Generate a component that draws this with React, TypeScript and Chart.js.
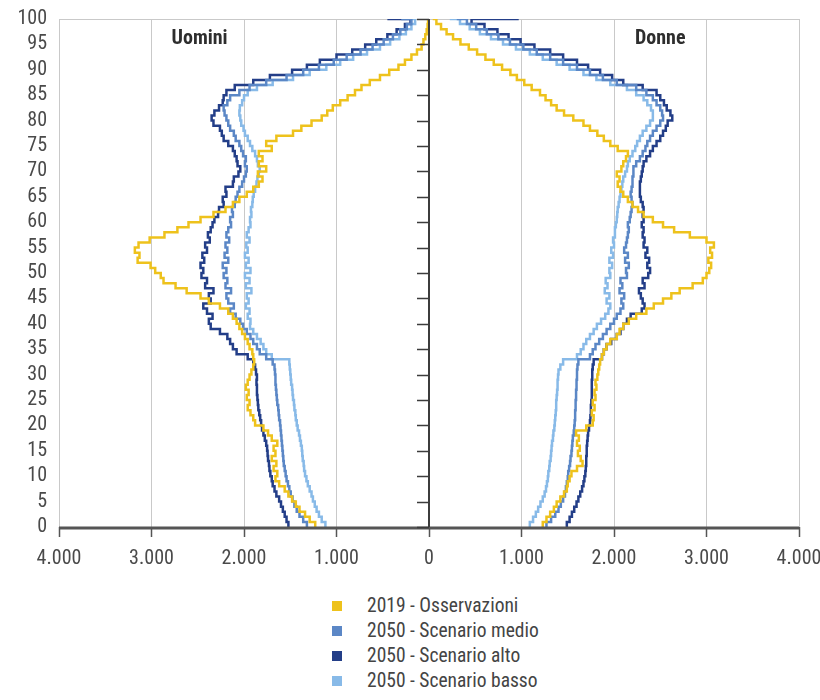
import { useEffect, useRef } from "react";
import { Chart, registerables } from "chart.js";

Chart.register(...registerables);

const AGES = Array.from({ length: 101 }, (_, i) => i);

const SERIES_LABELS = [
  "2019 - Osservazioni",
  "2050 - Scenario medio",
  "2050 - Scenario alto",
  "2050 - Scenario basso",
];
const SERIES_COLORS = ["#EEC21C", "#5B87C6", "#233E88", "#88BAE8"];
const SIDE_LABELS = ["Uomini", "Donne"];

// Males (absolute values), ages 0..100
const M_2019 = [
  1230, 1290, 1340, 1400, 1440, 1480, 1520, 1560, 1620, 1660,
  1640, 1680, 1650, 1700, 1660, 1680, 1640, 1700, 1740, 1790,
  1880, 1900, 1930, 1960, 1940, 1970, 1950, 1980, 1960, 1940,
  1920, 1900, 1890, 1900, 1910, 1940, 1960, 1990, 2020, 2050,
  2080, 2120, 2170, 2260, 2380, 2470, 2620, 2740, 2870, 2900,
  2960, 3010, 3150, 3130, 3180, 3140, 3020, 2860, 2720, 2600,
  2470, 2330, 2200, 2120, 2050, 1970, 1900, 1840, 1800, 1850,
  1760, 1840, 1800, 1840, 1700, 1760, 1650, 1470, 1380, 1270,
  1160, 1100, 1040, 960, 880, 800, 730, 640, 530, 430,
  330, 260, 190, 130, 80, 60, 40, 25, 15, 10,
  10,
];
const M_MEDIO = [
  1320, 1360, 1400, 1430, 1455, 1475, 1495, 1510, 1525, 1540,
  1550, 1560, 1570, 1575, 1580, 1585, 1590, 1595, 1600, 1605,
  1610, 1620, 1625, 1630, 1640, 1645, 1650, 1655, 1660, 1660,
  1665, 1670, 1690, 1760, 1830, 1860, 1900, 1930, 1970, 2010,
  2040, 2090, 2150, 2110, 2170, 2190, 2140, 2200, 2180, 2220,
  2190, 2230, 2170, 2210, 2180, 2200, 2160, 2190, 2170, 2140,
  2150, 2120, 2130, 2100, 2090, 2070, 2050, 2020, 2000, 1980,
  1970, 1990, 1980, 2010, 2030, 2050, 2090, 2110, 2150, 2170,
  2190, 2210, 2220, 2180, 2150, 2050, 1940, 1760, 1540, 1360,
  1190, 1030, 890, 740, 610, 490, 390, 310, 240, 190,
  300,
];
const M_ALTO = [
  1520, 1540, 1560, 1580, 1600, 1620, 1650, 1670, 1690, 1700,
  1715, 1725, 1730, 1740, 1745, 1750, 1760, 1775, 1790, 1805,
  1815, 1825, 1835, 1845, 1850, 1855, 1860, 1860, 1865, 1860,
  1870, 1880, 1900, 1960, 2080, 2120, 2150, 2180, 2260, 2360,
  2380, 2340, 2400, 2440, 2360, 2380, 2330, 2420, 2400, 2460,
  2440, 2470, 2430, 2450, 2400, 2420, 2370, 2390, 2360, 2340,
  2320, 2280, 2270, 2220, 2230, 2190, 2200, 2120, 2110, 2060,
  2040, 2070, 2080, 2100, 2120, 2170, 2220, 2240, 2260, 2330,
  2350, 2320, 2270, 2230, 2220, 2190, 2100, 1900, 1720, 1480,
  1320, 1180, 1000, 830, 690, 570, 450, 350, 260, 200,
  450,
];
const M_BASSO = [
  1120, 1160, 1190, 1215, 1235, 1255, 1270, 1290, 1310, 1325,
  1340, 1350, 1355, 1365, 1370, 1375, 1385, 1395, 1405, 1420,
  1430, 1440, 1445, 1455, 1460, 1470, 1475, 1480, 1490, 1495,
  1500, 1505, 1510, 1700, 1760, 1790, 1820, 1860, 1900, 1935,
  1930, 1960, 1940, 1980, 1950, 1970, 1920, 1980, 1940, 1990,
  1930, 1980, 1950, 1990, 1960, 1975, 1940, 1970, 1950, 1930,
  1935, 1920, 1925, 1910, 1905, 1895, 1880, 1865, 1855, 1840,
  1830, 1850, 1860, 1880, 1910, 1935, 1960, 1990, 2005, 2030,
  2040, 2050, 2045, 2020, 2000, 1960, 1860, 1690, 1470, 1290,
  1110, 960, 820, 670, 530, 420, 320, 250, 190, 150,
  200,
];

// Females, ages 0..100
const F_2019 = [
  1230, 1270, 1310, 1350, 1380, 1420, 1460, 1490, 1500, 1520,
  1540, 1600, 1660, 1640, 1610, 1630, 1600, 1620, 1590, 1700,
  1770, 1780, 1760, 1790, 1770, 1800, 1790, 1810, 1800, 1820,
  1830, 1840, 1850, 1870, 1890, 1920, 1960, 2030, 2060, 2100,
  2160, 2240, 2350, 2430, 2530, 2620, 2710, 2850, 2960, 3000,
  3030, 3050, 3020, 3060, 3040, 3080, 3000, 2820, 2650, 2530,
  2420, 2320, 2260, 2200, 2150, 2100, 2070, 2040, 2060, 2030,
  2080, 2100, 2130, 2150, 2040, 1960, 1890, 1820, 1740, 1670,
  1560, 1460, 1380, 1320, 1260, 1200, 1110, 1030, 950, 880,
  790, 700, 610, 520, 430, 340, 260, 190, 130, 80,
  40,
];
const F_MEDIO = [
  1270, 1320, 1365, 1400, 1425, 1450, 1470, 1480, 1490, 1500,
  1505, 1515, 1525, 1530, 1540, 1545, 1550, 1555, 1565, 1570,
  1575, 1580, 1580, 1585, 1585, 1590, 1590, 1595, 1595, 1600,
  1600, 1605, 1615, 1740, 1770, 1800, 1840, 1880, 1920, 1960,
  2000, 2030, 2070, 2100, 2080, 2110, 2060, 2090, 2070, 2140,
  2130, 2160, 2120, 2150, 2110, 2130, 2140, 2150, 2160, 2150,
  2170, 2180, 2190, 2200, 2190, 2180, 2190, 2200, 2200, 2210,
  2210, 2240, 2280, 2310, 2340, 2360, 2390, 2420, 2460, 2500,
  2530, 2520, 2500, 2460, 2420, 2350, 2240, 2030, 1880, 1740,
  1600, 1450, 1310, 1165, 1020, 875, 750, 625, 510, 410,
  300,
];
const F_ALTO = [
  1490, 1520, 1545, 1570, 1595, 1615, 1635, 1655, 1670, 1680,
  1690, 1695, 1700, 1700, 1705, 1705, 1710, 1715, 1720, 1730,
  1740, 1745, 1750, 1750, 1755, 1760, 1760, 1760, 1760, 1765,
  1765, 1770, 1780, 1870, 1890, 1920, 1970, 2030, 2070, 2100,
  2140, 2180, 2300, 2330, 2310, 2290, 2270, 2330, 2310, 2370,
  2390, 2360, 2380, 2340, 2360, 2320, 2330, 2310, 2320, 2300,
  2320, 2310, 2320, 2310, 2290, 2280, 2280, 2280, 2290, 2300,
  2310, 2320, 2350, 2390, 2420, 2460, 2500, 2530, 2560, 2580,
  2630, 2610, 2570, 2540, 2500, 2460, 2310, 2100, 1980, 1850,
  1720, 1600, 1450, 1310, 1140, 990, 860, 740, 600, 460,
  970,
];
const F_BASSO = [
  1090, 1125, 1155, 1180, 1205, 1230, 1250, 1265, 1275, 1285,
  1290, 1300, 1305, 1315, 1320, 1325, 1330, 1340, 1345, 1355,
  1360, 1365, 1370, 1375, 1375, 1380, 1385, 1390, 1390, 1395,
  1400, 1420, 1450, 1600, 1640, 1670, 1700, 1740, 1780, 1815,
  1860, 1905, 1940, 1960, 1920, 1950, 1900, 1930, 1910, 1960,
  1950, 1980, 1950, 1990, 1970, 2000, 1990, 2010, 2010, 2020,
  2030, 2035, 2040, 2050, 2060, 2070, 2080, 2090, 2100, 2120,
  2140, 2150, 2170, 2200, 2230, 2250, 2280, 2310, 2350, 2390,
  2420, 2420, 2400, 2360, 2320, 2240, 2140, 1960, 1810, 1670,
  1520, 1380, 1230, 1090, 940, 800, 670, 550, 440, 335,
  225,
];

const MALE = [M_2019, M_MEDIO, M_ALTO, M_BASSO];
const FEMALE = [F_2019, F_MEDIO, F_ALTO, F_BASSO];

const FONT = '"Roboto Condensed", "Open Sans Condensed", sans-serif';

const overlayPlugin = {
  id: "pyramidOverlay",
  afterDatasetsDraw(chart: any) {
    const { ctx, scales, chartArea } = chart;
    const x = scales.x;
    const y = scales.y;
    const cx = x.getPixelForValue(0);
    const y0 = y.getPixelForValue(0);
    ctx.save();
    // bottom axis line
    ctx.strokeStyle = "#555";
    ctx.lineWidth = 3;
    ctx.beginPath();
    ctx.moveTo(chartArea.left, y0 + 1);
    ctx.lineTo(chartArea.right, y0 + 1);
    ctx.stroke();
    // central age axis
    ctx.strokeStyle = "#3c3c3c";
    ctx.lineWidth = 2;
    ctx.beginPath();
    ctx.moveTo(cx, y.getPixelForValue(100));
    ctx.lineTo(cx, y0);
    ctx.stroke();
    ctx.lineWidth = 1.5;
    ctx.beginPath();
    for (let a = 0; a <= 100; a += 5) {
      const py = Math.round(y.getPixelForValue(a)) + 0.5;
      ctx.moveTo(cx - 12, py);
      ctx.lineTo(cx, py);
    }
    ctx.stroke();
    ctx.font = "bold 20px " + FONT;
    ctx.fillStyle = "#2e2e2e";
    ctx.textAlign = "center";
    ctx.textBaseline = "middle";
    ctx.fillText(SIDE_LABELS[0], x.getPixelForValue(-2480), y.getPixelForValue(96.0));
    ctx.fillText(SIDE_LABELS[1], x.getPixelForValue(2500), y.getPixelForValue(96.0));
    ctx.restore();
  },
};

export default function App() {
  const canvasRef = useRef<HTMLCanvasElement | null>(null);

  useEffect(() => {
    document.body.style.margin = "0";
    const canvas = canvasRef.current;
    if (!canvas) return;
    const datasets: any[] = [];
    for (let i = 0; i < 4; i++) {
      datasets.push({
        label: SERIES_LABELS[i] + " (M)",
        data: AGES.map((a, k) => ({ x: -MALE[i][k], y: a })),
        borderColor: SERIES_COLORS[i],
        backgroundColor: SERIES_COLORS[i],
        borderWidth: 2.5,
        pointRadius: 0,
        stepped: "after",
        fill: false,
        order: i,
      });
      datasets.push({
        label: SERIES_LABELS[i] + " (F)",
        data: AGES.map((a, k) => ({ x: FEMALE[i][k], y: a })),
        borderColor: SERIES_COLORS[i],
        backgroundColor: SERIES_COLORS[i],
        borderWidth: 2.5,
        pointRadius: 0,
        stepped: "after",
        fill: false,
        order: i,
      });
    }

    const chart = new Chart(canvas, {
      type: "line",
      data: { datasets },
      options: {
        animation: false,
        responsive: true,
        maintainAspectRatio: false,
        indexAxis: "y",
        layout: { padding: { top: 19, right: 21, left: 0, bottom: 0 } },
        plugins: {
          legend: { display: false },
          tooltip: { enabled: false },
        },
        scales: {
          x: {
            type: "linear",
            min: -4000,
            max: 4000,
            afterFit: (s: any) => {
              s.height = 48;
              s.paddingLeft = 0;
              s.paddingRight = 0;
            },
            ticks: {
              stepSize: 1000,
              color: "#4a4a4a",
              padding: 10,
              font: { family: FONT, size: 20 },
              maxRotation: 0,
              autoSkip: false,
              callback: (v: any) => {
                const a = Math.abs(Number(v));
                if (a === 0) return "0";
                return String(a / 1000) + ".000";
              },
            },
            grid: {
              color: (c: any) => (c.tick && c.tick.value === 0 ? "rgba(0,0,0,0)" : "#c9c9c9"),
              lineWidth: 1,
              drawTicks: true,
              tickLength: 10,
              tickColor: "#555",
              tickWidth: 1.5,
            },
            border: { display: false },
          },
          y: {
            type: "linear",
            min: 0,
            max: 100,
            afterFit: (s: any) => {
              s.width = 59;
              s.paddingTop = 0;
              s.paddingBottom = 0;
            },
            ticks: {
              stepSize: 5,
              color: "#4a4a4a",
              padding: 12,
              autoSkip: false,
              font: { family: FONT, size: 20 },
            },
            grid: {
              color: (c: any) => (c.tick && c.tick.value === 100 ? "#c9c9c9" : "rgba(0,0,0,0)"),
              drawTicks: false,
            },
            border: { display: false },
          },
        },
      },
      plugins: [overlayPlugin],
    });
    return () => chart.destroy();
  }, []);

  return (
    <div style={{ position: "relative", width: 820, height: 700, background: "#fff" }}>
      <div style={{ position: "absolute", left: 0, top: 0, width: 820, height: 575 }}>
        <canvas ref={canvasRef} />
      </div>
      <div style={{ position: "absolute", left: 332, top: 593 }}>
        {SERIES_LABELS.map((label, i) => (
          <div key={label} style={{ display: "flex", alignItems: "center", height: 25 }}>
            <span style={{ display: "inline-block", width: 10, height: 10, background: SERIES_COLORS[i] }} />
            <span style={{ marginLeft: 25, fontFamily: FONT, fontSize: 19.5, color: "#444", lineHeight: "25px" }}>{label}</span>
          </div>
        ))}
      </div>
    </div>
  );
}
